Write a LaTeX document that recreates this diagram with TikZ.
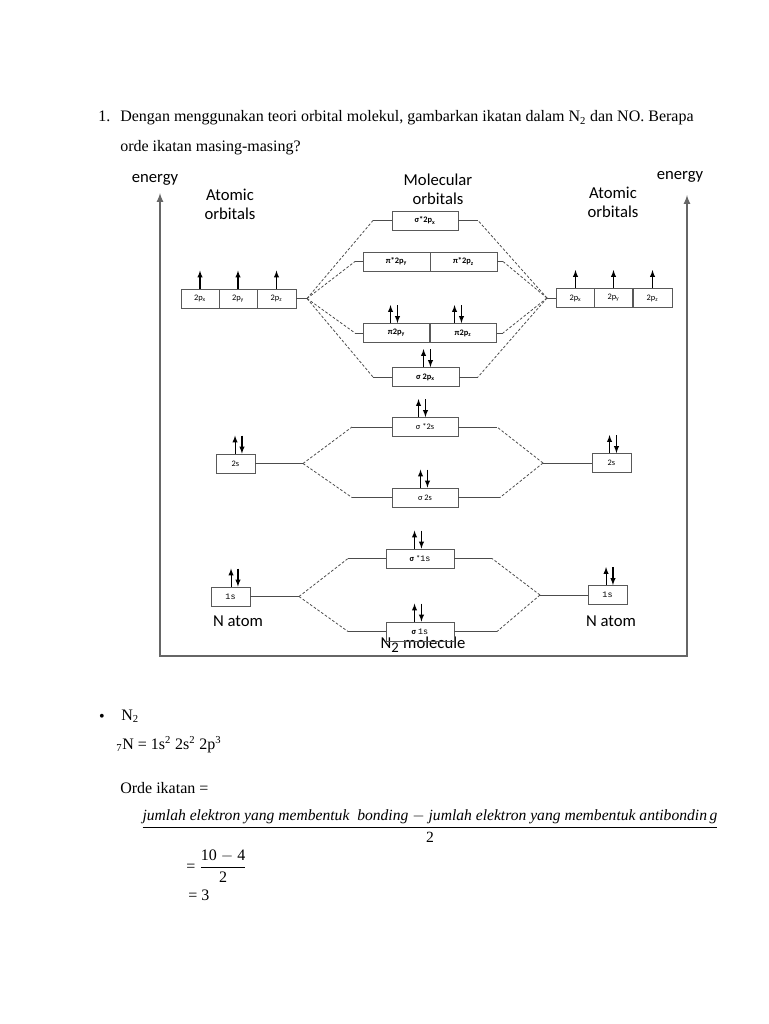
\documentclass[tikz,border=0pt]{standalone}
\usepackage{fontspec}
\setmainfont{Liberation Serif}
\newfontfamily\diagfont{Carlito}
\newfontfamily\orbmono{Liberation Mono}
\usepackage{tikz}
\usetikzlibrary{arrows, positioning, calc}

\begin{document}
\begin{tikzpicture}[x=0.75pt, y=-0.75pt,
  lbl/.style={font=\diagfont\fontsize{12.5}{14}\selectfont, align=center, inner sep=0pt},
  txt/.style={anchor=base west, inner sep=0pt, font=\fontsize{12}{14}\selectfont},
  orb/.style={draw=black!65, line width=0.7pt, minimum height=14.25pt, inner sep=0pt,
    font=\diagfont\fontsize{6.3}{7}\selectfont},
  lvl/.style={draw=black!70, line width=0.7pt},
  corr/.style={draw=black!70, line width=0.6pt, dash pattern=on 2pt off 1.4pt},
  spin/.style={-latex, line width=0.8pt},
  axis/.style={draw=black!60, line width=1.3pt, latex-latex}]
\useasboundingbox (0,0) rectangle (768,1024);

% 問題文
\node[txt] (qnum) at (98,122) {1.};
\node[txt] (qline1) at (120,122) {Dengan menggunakan teori orbital molekul, gambarkan ikatan dalam N\textsubscript{2} dan NO. Berapa};
\node[txt] (qline2) at (120,151) {orde ikatan masing-masing?};

% エネルギー軸と枠
\coordinate (axL) at (160,193);
\coordinate (axC) at (687,656);
\coordinate (axR) at (687,195);
\draw[axis] (axL) |- (axC) -- (axR);

% ラベル
\node[lbl] (enL) at (155,180) {energy};
\node[lbl] (enR) at (680,177) {energy};
\node[lbl] (aoL) at (230,204) {Atomic\\orbitals};
\node[lbl] (mo) at (438,189) {Molecular\\orbitals};
\node[lbl] (aoR) at (613,202) {Atomic\\orbitals};
\node[lbl] (atL) at (238,621) {N atom};
\node[lbl] (atR) at (611,621) {N atom};
\node[lbl] (mol) at (423,645) {N\textsubscript{\fontsize{11}{12}\selectfont 2} molecule};

% 原子軌道
\foreach \n/\x/\y/\w/\t in {
  L2px/200/298.5/38/{2p\textsubscript{x}}, L2py/238/298.5/38/{2p\textsubscript{y}}, L2pz/276.5/298.5/39/{2p\textsubscript{z}},
  R2px/575.5/298/38/{2p\textsubscript{x}}, R2py/613.5/298/38/{2p\textsubscript{y}}, R2pz/652.5/298/39/{2p\textsubscript{z}},
  L2s/235.5/463.5/39/{2s}, R2s/611.5/463/39/{2s},
  L1s/230.5/596.5/39/{\orbmono 1s}, R1s/607.5/595/39/{\orbmono 1s}}
  \node[orb, minimum width=0.75pt*\w] (\n) at (\x,\y) {\t};

% 分子軌道
\foreach \n/\x/\y/\w/\t in {
  ss2p/425/220.5/66/{\bfseries σ*2p\textsubscript{x}},
  ps2py/396.5/261.5/67/{\bfseries π*2p\textsubscript{y}}, ps2pz/463.5/261.5/67/{\bfseries π*2p\textsubscript{z}},
  p2py/396.5/333/67/{\bfseries π2p\textsubscript{y}}, p2pz/463/333/67/{\bfseries π2p\textsubscript{z}},
  s2p/425.5/377/67/{\bfseries σ 2p\textsubscript{x}},
  ss2s/425/427/66/{σ *2s}, s2s/425/497.5/66/{σ 2s},
  ss1s/420/558.5/68/{{\bfseries σ} *{\orbmono 1s}}, s1s/420/631.5/68/{{\bfseries σ} {\orbmono 1s}}}
  \node[orb, minimum width=0.75pt*\w] (\n) at (\x,\y) {\t};

% 準位の端点
\foreach \c/\x/\y in {
  jL2p/307/298.5, jR2p/547/298, jL2s/303/463.5, jR2s/543/463, jL1s/299/596.5, jR1s/540/595,
  ss2p-l/373/220.5, ss2p-r/478/220.5, ps2p-l/355/261.5, ps2p-r/503/261.5,
  p2p-l/355/333, p2p-r/503/333, s2p-l/373/377, s2p-r/478/377,
  ss2s-l/352/427, ss2s-r/497/427, s2s-l/352/497.5, s2s-r/500/497.5,
  ss1s-l/348/558.5, ss1s-r/492/558.5, s1s-l/348/631.5, s1s-r/497/631.5}
  \coordinate (\c) at (\x,\y);

\foreach \a/\b in {
  L2pz.east/jL2p, R2px.west/jR2p, L2s.east/jL2s, R2s.west/jR2s, L1s.east/jL1s, R1s.west/jR1s,
  ss2p.west/ss2p-l, ss2p.east/ss2p-r, ps2py.west/ps2p-l, ps2pz.east/ps2p-r,
  p2py.west/p2p-l, p2pz.east/p2p-r, s2p.west/s2p-l, s2p.east/s2p-r,
  ss2s.west/ss2s-l, ss2s.east/ss2s-r, s2s.west/s2s-l, s2s.east/s2s-r,
  ss1s.west/ss1s-l, ss1s.east/ss1s-r, s1s.west/s1s-l, s1s.east/s1s-r}
  \draw[lvl] (\a) -- (\b);

% 相関線
\foreach \a/\b in {
  jL2p/ss2p-l, jL2p/ps2p-l, jL2p/p2p-l, jL2p/s2p-l,
  jR2p/ss2p-r, jR2p/ps2p-r, jR2p/p2p-r, jR2p/s2p-r,
  jL2s/ss2s-l, jL2s/s2s-l, jR2s/ss2s-r, jR2s/s2s-r,
  jL1s/ss1s-l, jL1s/s1s-l, jR1s/ss1s-r, jR1s/s1s-r}
  \draw[corr] (\a) -- (\b);

% 電子
\foreach \b in {L2px, L2py, L2pz, R2px, R2py, R2pz}
  \draw[spin] (\b.north) -- ++(0,-18);
\foreach \b/\dx in {L1s/4, R1s/2, ss1s/-2, s1s/-2, L2s/3, R2s/1.5, ss2s/-3, s2s/-1,
  s2p/1.5, p2py/-2.5, p2pz/-5} {
  \draw[spin] ([xshift=0.75pt*\dx-2.6pt]\b.north) -- ++(0,-18);
  \draw[spin] ([xshift=0.75pt*\dx+2.6pt, yshift=13.5pt]\b.north) -- ([xshift=0.75pt*\dx+2.6pt]\b.north);
}

% 解答
\node (bul) at (102,718) {\fontsize{12}{14}\selectfont\textbullet};
\node[txt] (n2) at (121,720) {N\textsubscript{2}};
\node[txt] (conf) at (116,749) {\textsubscript{7}N = 1s\textsuperscript{2} 2s\textsuperscript{2} 2p\textsuperscript{3}};
\node[txt] (orde) at (120,793) {Orde ikatan =};
\node (frac1) at (430,826) {\fontsize{11.7}{14}\selectfont
  $\displaystyle\frac{\mbox{\itshape jumlah elektron yang membentuk\ \ bonding $-$ jumlah elektron yang membentuk antibondin\,g}}{\mbox{2}}$};
\node[anchor=west, inner sep=0pt] (frac2) at (186,866) {\fontsize{12}{14}\selectfont
  = $\displaystyle\frac{\mbox{10 $-$ 4}}{\mbox{2}}$};
\node[txt] (res) at (188,900) {= 3};

\end{tikzpicture}
\end{document}
